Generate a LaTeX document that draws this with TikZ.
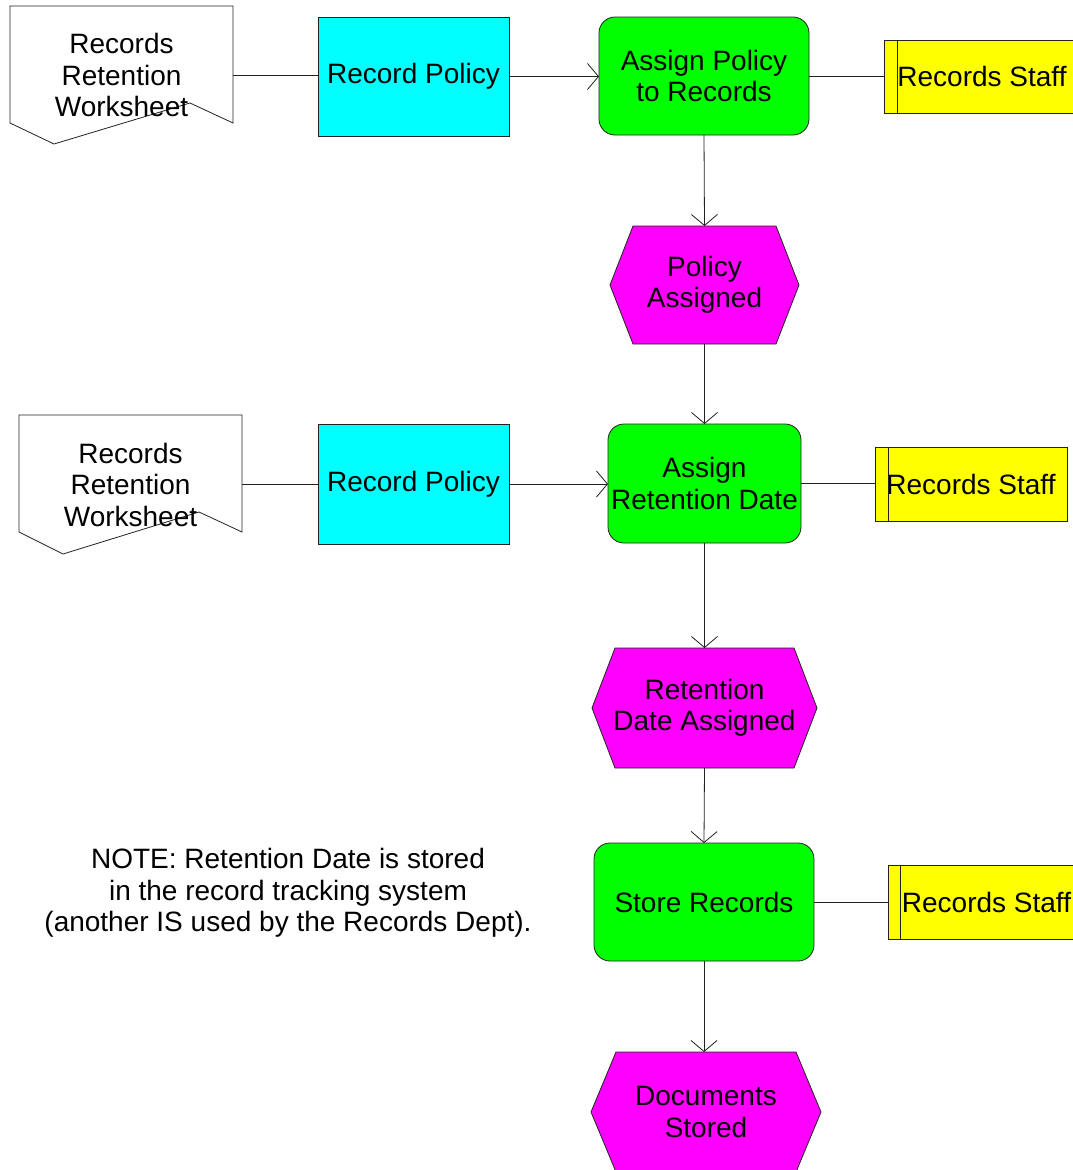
\documentclass[tikz,border=0pt]{standalone}
\usepackage{fontspec}
\setmainfont{Liberation Sans}
\usetikzlibrary{arrows.meta,calc,backgrounds}
\definecolor{polcyan}{HTML}{00FFFF}
\definecolor{actgreen}{HTML}{00FF00}
\definecolor{evtmag}{HTML}{FF00FF}
\definecolor{roleyel}{HTML}{FFFF00}
\definecolor{ink}{HTML}{222222}
\begin{document}
\begin{tikzpicture}[x=1pt,y=-1pt,
  every node/.style={font=\fontsize{28}{31.5}\selectfont, align=center, inner sep=0pt, outer sep=0pt},
  sized/.style 2 args={minimum width=#1, minimum height=#2},
  edge/.style={draw=ink, line width=0.8pt},
  flow/.style={edge, -{Straight Barb[length=11pt,width=26pt,line width=0.8pt]}},
  outline/.style={draw=ink, line width=0.8pt},
  policy/.style={outline, fill=polcyan},
  activity/.style={outline, fill=actgreen, rounded corners=16pt},
  role/.style={outline, fill=roleyel},
  eventfill/.style={outline, fill=evtmag},
  docfill/.style={outline, fill=white}
]
\clip (0,0) rectangle (1073,1170);

% ---- nodes ----
\node[sized={223}{138}] (doc1) at (121.5,75) {Records\\Retention\\Worksheet};
\node[policy, sized={191}{119}] (rp1) at (413.5,76.5) {Record Policy};
\node[activity, sized={210}{118}] (as1) at (704,76) {Assign Policy\\to Records};
\node[role, sized={196}{73}] (st1) at (982,76.5) {Records Staff};
\node[sized={189}{118}] (pa) at (704.5,285) {Policy\\Assigned};

\node[sized={223}{139}] (doc2) at (130.5,484.5) {Records\\Retention\\Worksheet};
\node[policy, sized={191}{120}] (rp2) at (413.5,484) {Record Policy};
\node[activity, sized={193}{119}] (as2) at (704.5,483.5) {Assign\\Retention Date};
\node[role, sized={192}{74}] (st2) at (971,484) {Records Staff};
\node[sized={225}{120}] (rda) at (704.5,708) {Retention\\Date Assigned};

\node[activity, sized={220}{118}] (sr) at (704,902) {Store Records};
\node[role, sized={197}{74}] (st3) at (986.5,902) {Records Staff};
\node[sized={230}{120}] (ds) at (706,1112) {Documents\\Stored};

\node (note) at (288,893) {NOTE: Retention Date is stored\\in the record tracking system\\(another IS used by the Records Dept).};

% ---- page and shape outlines behind the text ----
\begin{scope}[on background layer]
  \fill[white] (0,0) rectangle (1073,1170);
  \foreach \d in {doc1,doc2}{
    \draw[docfill] (\d.north west) -- (\d.north east)
      -- ($(\d.north east)+(0,117)$) -- ($(\d.north west)+(180,97)$)
      -- ($(\d.south west)+(44,0)$) -- ($(\d.north west)+(0,117)$) -- cycle;
  }
  \foreach \h/\i in {pa/23,rda/23,ds/25}{
    \draw[eventfill] ($(\h.north west)+(\i,0)$) -- ($(\h.north east)+(-\i,0)$)
      -- (\h.east) -- ($(\h.south east)+(-\i,0)$) -- ($(\h.south west)+(\i,0)$)
      -- (\h.west) -- cycle;
  }
\end{scope}

% inner bar of the role boxes
\draw[edge] ($(st1.north west)+(13,0)$) -- ($(st1.south west)+(13,0)$);
\draw[edge] ($(st2.north west)+(13,0)$) -- ($(st2.south west)+(13,0)$);
\draw[edge] ($(st3.north west)+(12,0)$) -- ($(st3.south west)+(12,0)$);

% ---- connectors ----
\draw[edge] (doc1.east) -- (doc1.east -| rp1.west);
\draw[flow] (rp1.east) -- (rp1.east -| as1.west);
\draw[edge] (as1.east) -- (as1.east -| st1.west);
\draw[flow] (as1.south) -- (pa.north);
\draw[flow] (pa.south) -- (as2.north);

\draw[edge] (doc2.east) -- (doc2.east -| rp2.west);
\draw[flow] (rp2.east) -- (rp2.east -| as2.west);
\draw[edge] (as2.east) -- (as2.east -| st2.west);
\draw[flow] (as2.south) -- (rda.north);
\draw[flow] (rda.south) -- (sr.north);

\draw[edge] (sr.east) -- (sr.east -| st3.west);
\draw[flow] (sr.south) -- (sr.south |- ds.north);
\end{tikzpicture}
\end{document}
